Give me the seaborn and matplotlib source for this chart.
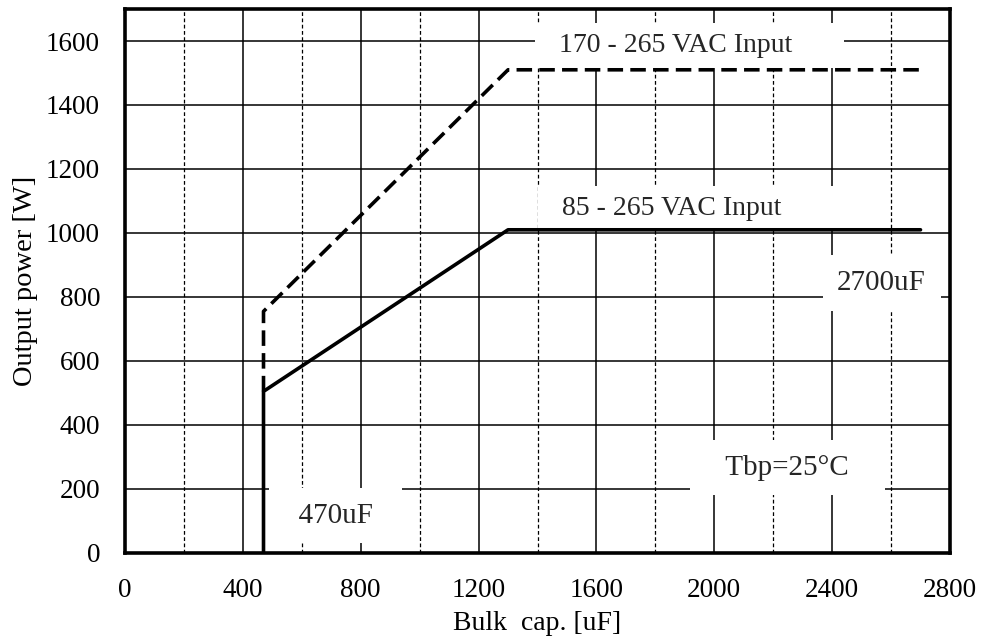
import matplotlib
matplotlib.use("Agg")
import matplotlib.pyplot as plt
import seaborn as sns
import pandas as pd

# Data
cap_85 = [470, 470, 1300, 2700]
pow_85 = [0, 505, 1010, 1010]
cap_170 = [470, 470, 1300, 2700]
pow_170 = [505, 755, 1510, 1510]
x_ticks = [0, 400, 800, 1200, 1600, 2000, 2400, 2800]
y_ticks = [0, 200, 400, 600, 800, 1000, 1200, 1400, 1600]
x_minor = [200, 600, 1000, 1400, 1800, 2200, 2600]

sns.set_theme(style="white")
plt.rcParams['font.family'] = ['Liberation Serif', 'DejaVu Serif']

fig = plt.figure(figsize=(9.83, 6.43), dpi=100)
ax = fig.add_axes([0.1272, 0.14, 0.8392, 0.846])

df85 = pd.DataFrame({"cap": cap_85, "pow": pow_85})
df170 = pd.DataFrame({"cap": cap_170, "pow": pow_170})

sns.lineplot(data=df170, x="cap", y="pow", ax=ax, color="black", lw=2.6,
             sort=False, estimator=None, zorder=5)
ax.lines[-1].set_dashes([4.3, 2.0])
sns.lineplot(data=df85, x="cap", y="pow", ax=ax, color="black", lw=2.6,
             sort=False, estimator=None, zorder=6)

ax.set_xlim(0, 2800)
ax.set_ylim(0, 1700)
ax.set_xticks(x_ticks)
ax.set_yticks(y_ticks)

# Grid
for y in y_ticks[1:]:
    ax.axhline(y, color="black", lw=1.1, zorder=1)
for x in x_ticks[1:-1]:
    ax.axvline(x, color="black", lw=1.1, zorder=1)
for x in x_minor:
    ax.axvline(x, color="black", lw=0.9, ls=(0, (3, 2)), zorder=1)

ax.tick_params(axis="both", which="both", length=0, labelsize=19.5, colors="black")
ax.tick_params(axis="x", pad=18)
ax.tick_params(axis="y", pad=18)

for s in ax.spines.values():
    s.set_linewidth(2.6)
    s.set_color("black")
    s.set_zorder(10)

ax.set_xlabel("Bulk  cap. [uF]", fontsize=20, color="black", labelpad=6)
ax.set_ylabel("Output power [W]", fontsize=20.5, color="black", labelpad=6)

def box(p):
    return dict(facecolor="white", edgecolor="none", boxstyle=f"square,pad={p}")

ax.text(1426, 1566, "  170 - 265 VAC Input      ", fontsize=20, ha="left",
        va="baseline", bbox=box(0.35), zorder=3)
ax.text(1436, 1056, "  85 - 265 VAC Input             ", fontsize=20, ha="left",
        va="baseline", bbox=box(0.35), zorder=3)
ax.text(2568, 822, "2700uF", fontsize=21, ha="center", va="baseline",
        bbox=box(0.5), zorder=3)
ax.text(2249, 244, "   Tbp=25°C   ", fontsize=21, ha="center", va="baseline",
        bbox=box(0.5), zorder=3)
ax.text(715, 94, "  470uF  ", fontsize=21, ha="center", va="baseline",
        bbox=box(0.5), zorder=3)

fig.savefig("out.png", dpi=100)
